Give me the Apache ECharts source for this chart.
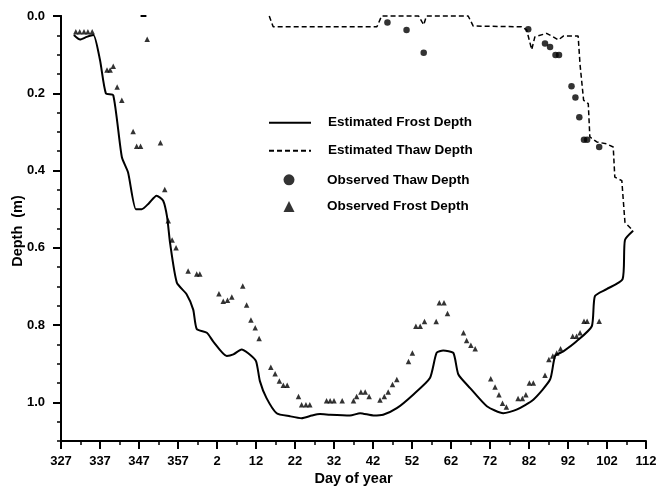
<!DOCTYPE html>
<html>
<head>
<meta charset="utf-8">
<script src="https://cdn.jsdelivr.net/npm/echarts@6/dist/echarts.min.js"></script>
<style>html,body{margin:0;padding:0;background:#fff}#c{width:659px;height:488px}</style>
</head>
<body>
<div id="c"></div>
<script>
// Day of year runs continuously across New Year: values > 365 are labelled (value - 365)
var estimatedFrostDepth = [
  [330.3,0.049],[331.9,0.061],[333.6,0.054],[335.3,0.049],[337,0.114],[338.5,0.2],[340.4,0.205],
  [342.6,0.365],[344.2,0.405],[346.2,0.5],[347.7,0.5],[349.5,0.485],[351.5,0.465],[353.2,0.478],
  [354.2,0.52],[355,0.59],[356.7,0.69],[359.2,0.72],[360.9,0.76],[361.8,0.81],[364.4,0.82],
  [366,0.842],[369.5,0.88],[371.2,0.876],[373.3,0.863],[375,0.873],[377,0.893],[378,0.945],
  [379.7,0.989],[382.3,1.028],[385.7,1.036],[388.7,1.041],[391.3,1.034],[393.4,1.03],[396,1.032],
  [401.1,1.034],[403.7,1.028],[407.1,1.034],[409.6,1.032],[413.1,1.015],[417.3,0.98],[421.6,0.937],
  [423.3,0.872],[425,0.866],[427.6,0.872],[428.9,0.928],[431.9,0.963],[436.2,1.01],[440.4,1.028],
  [443.8,1.019],[448.1,0.993],[452.4,0.941],[453.7,0.88],[455.8,0.868],[459.2,0.842],[463.1,0.803],
  [463.9,0.725],[466.9,0.707],[471,0.681],[471.6,0.58],[473.7,0.556]
];
var estimatedThawDepth = [
  [380.4,0.0],[381.4,0.028],[408,0.028],[409.2,0.0],[418.7,0.0],[420,0.023],[420.7,0.0],
  [431.4,0.0],[432.7,0.026],[445.1,0.028],[446.4,0.036],[447.7,0.087],[448.5,0.054],[451.5,0.045],
  [453.2,0.054],[454.5,0.062],[455.8,0.052],[459.6,0.052],[460.1,0.127],[461,0.218],[462.2,0.227],
  [462.6,0.313],[464.4,0.326],[466.9,0.331],[468.6,0.339],[469,0.417],[470.8,0.426],[471.6,0.534],
  [473.7,0.556]
];
var observedThawDepth = [
  [410.7,0.017],[415.6,0.036],[420,0.095],[446.8,0.034],[451.1,0.071],[452.4,0.08],[453.8,0.101],
  [454.7,0.101],[457.9,0.182],[458.9,0.211],[459.9,0.262],[461.1,0.32],[461.9,0.32],[465,0.339]
];
var observedFrostDepth = [
  [330.8,0.041],[331.8,0.041],[332.9,0.041],[333.9,0.041],[335,0.041],
  [338.8,0.14],[339.6,0.14],[340.4,0.13],[341.4,0.184],[342.6,0.218],[345.5,0.299],[346.4,0.337],
  [347.4,0.337],[349.1,0.06],[352.5,0.328],[353.6,0.449],[354.5,0.53],[355.5,0.58],[356.5,0.6],
  [359.6,0.66],[361.8,0.668],[362.6,0.668],[367.5,0.719],[368.6,0.738],[369.7,0.736],[370.8,0.727],
  [373.6,0.699],[374.6,0.748],[375.7,0.787],[376.8,0.807],[377.8,0.835],[380.8,0.909],[381.9,0.926],
  [383,0.945],[384,0.956],[385,0.956],[387.9,0.985],[388.7,1.006],[389.8,1.006],[390.8,1.006],
  [395.1,0.996],[396,0.996],[397,0.996],[399.1,0.996],[402,0.996],[402.8,0.985],[403.9,0.973],
  [405,0.973],[406,0.985],[408.8,0.994],[409.9,0.985],[410.9,0.973],[412,0.954],[413.1,0.941],
  [416.1,0.894],[417.1,0.872],[418,0.803],[419.1,0.803],[420.2,0.791],[423.2,0.791],[424,0.742],
  [425.2,0.742],[426.1,0.77],[430.2,0.82],[431,0.84],[432.1,0.852],[433.2,0.861],[437.2,0.939],
  [438.3,0.96],[439.3,0.98],[440.2,1.002],[441.2,1.012],[444.2,0.99],[445.3,0.99],[446.2,0.98],
  [447.1,0.95],[448.1,0.95],[451.1,0.93],[452.1,0.889],[453.1,0.88],[454.1,0.872],[455.1,0.861],
  [458.2,0.829],[459.2,0.829],[460.1,0.82],[461.1,0.79],[461.9,0.79],[465,0.79]
];
var strayMark = [[347.4,0.0],[348.9,0.0]];
var xMin = 327, xMax = 477, xStep = 10;
var yMin = 0, yMax = 1.1, yStep = 0.2, yMinorStep = 0.05;
var seriesNames = ['Estimated Frost Depth','Estimated Thaw Depth','Observed Thaw Depth','Observed Frost Depth'];
var xTitle = 'Day of year', yTitle = 'Depth  (m)';

var FONT = '"Liberation Sans", Arial, Helvetica, sans-serif';
var chart = echarts.init(document.getElementById('c'), null, {renderer:'canvas'});
var labelStyle = {color:'#000', fontFamily:FONT, fontWeight:'bold', fontSize:13};
function legendText(pad, lh){
  return {color:'#000', fontFamily:FONT, fontWeight:'bold', fontSize:13.5, lineHeight:lh, padding:[0,0,0,pad]};
}
chart.setOption({
  animation:false,
  backgroundColor:'#fff',
  grid:{left:61, right:13, top:16, bottom:47, containLabel:false, outerBoundsMode:'none'},
  graphic:[{
    type:'text', x:353.5, y:479, z:10,
    style:{text:xTitle, align:'center', verticalAlign:'middle', textAlign:'center', textVerticalAlign:'middle',
           font:'bold 14.5px ' + FONT, fill:'#000'}
  },{
    type:'text', x:18, y:231, rotation:Math.PI/2, z:10,
    style:{text:yTitle, align:'center', verticalAlign:'middle', textAlign:'center', textVerticalAlign:'middle',
           font:'bold 14.5px ' + FONT, fill:'#000'}
  }],
  legend:[{
    data:[seriesNames[0]], left:268, top:122.7-7, padding:0, itemWidth:42, itemHeight:14,
    selectedMode:false, itemStyle:{opacity:0}, textStyle:legendText(12,14)
  },{
    data:[seriesNames[1]], left:268, top:150.7-7, padding:0, itemWidth:42, itemHeight:14,
    selectedMode:false, itemStyle:{opacity:0}, textStyle:legendText(12,14)
  },{
    data:[seriesNames[2]], left:283.5, top:178.3-5.5, padding:0, itemWidth:11, itemHeight:11,
    selectedMode:false, textStyle:legendText(27.5,11)
  },{
    data:[seriesNames[3]], left:283.5, top:205-5.5, padding:0, itemWidth:11, itemHeight:11,
    selectedMode:false, textStyle:legendText(27.5,11)
  }],
  xAxis:{
    type:'value', min:xMin, max:xMax, interval:xStep, position:'bottom',
    axisLine:{show:true, onZero:false, lineStyle:{color:'#000', width:2}},
    axisTick:{show:true, length:8, lineStyle:{color:'#000', width:2}},
    minorTick:{show:true, splitNumber:2, length:4, lineStyle:{color:'#000', width:1.5}},
    axisLabel:Object.assign({margin:14, formatter:function(v){var d=Math.round(v); return String(d>365?d-365:d);}}, labelStyle),
    splitLine:{show:false}
  },
  yAxis:[{
    type:'value', min:yMin, max:yMax, interval:yMinorStep, inverse:true,
    axisLine:{show:true, onZero:false, lineStyle:{color:'#000', width:2}},
    axisTick:{show:true, length:4, lineStyle:{color:'#000', width:1.5}},
    axisLabel:{show:false},
    splitLine:{show:false}
  },{
    type:'value', min:yMin, max:yMax, interval:yStep, inverse:true, position:'left',
    axisLine:{show:true, onZero:false, lineStyle:{color:'#000', width:2}},
    axisTick:{show:true, length:8, lineStyle:{color:'#000', width:2}},
    axisLabel:Object.assign({margin:16, showMaxLabel:false, formatter:function(v){return v.toFixed(1);}}, labelStyle),
    splitLine:{show:false}
  }],
  series:[{
    name:seriesNames[0], type:'line', data:estimatedFrostDepth, yAxisIndex:0,
    symbol:'none', smooth:0.2, clip:false,
    lineStyle:{color:'#000', width:2}, itemStyle:{color:'#000'}
  },{
    name:seriesNames[1], type:'line', data:estimatedThawDepth, yAxisIndex:0,
    symbol:'none', smooth:false, clip:false,
    lineStyle:{color:'#000', width:1.5, type:[5,3]}, itemStyle:{color:'#000'}
  },{
    name:seriesNames[2], type:'scatter', data:observedThawDepth, yAxisIndex:0,
    symbol:'circle', symbolSize:6.5, clip:false,
    itemStyle:{color:'#000'}
  },{
    name:seriesNames[3], type:'scatter', data:observedFrostDepth, yAxisIndex:0,
    symbol:'triangle', symbolSize:5.5, clip:false,
    itemStyle:{color:'#000'}
  },{
    name:'stray', type:'line', data:strayMark, yAxisIndex:0, z:10,
    symbol:'none', clip:false, lineStyle:{color:'#000', width:2}
  }]
});
</script>
</body>
</html>
